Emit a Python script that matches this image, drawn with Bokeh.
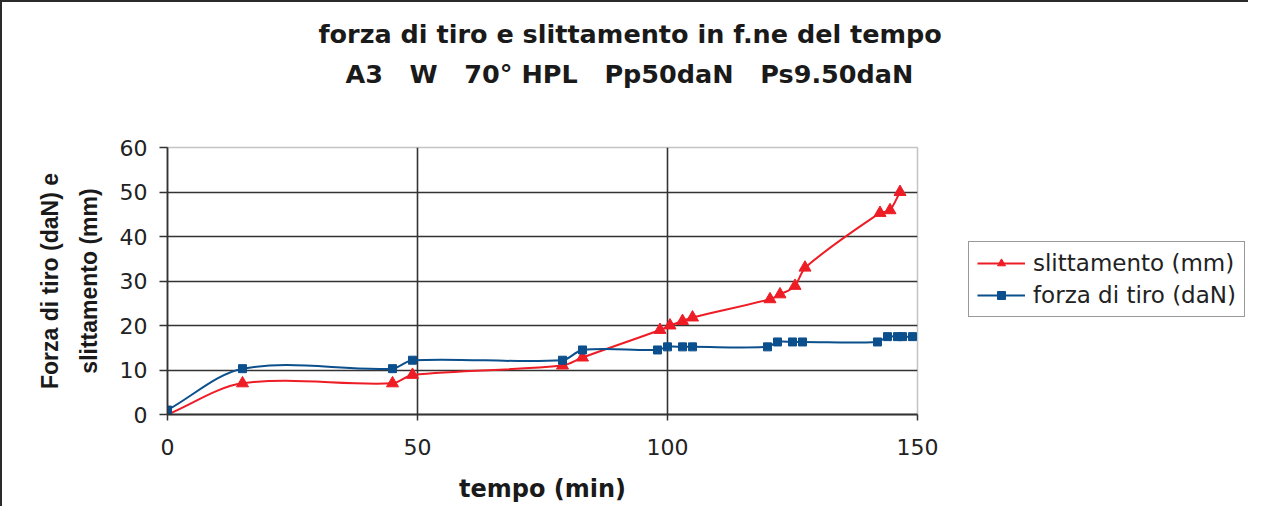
import numpy as np
from bokeh.plotting import figure
from bokeh.layouts import row
from bokeh.models import Range1d, FixedTicker, Legend, LegendItem, ColumnDataSource, Title
from bokeh.embed import file_html
from bokeh.resources import INLINE

# ---- data ----
time_slip = [0, 15, 45, 49, 79, 83, 98.5, 100.5, 103, 105, 120.5, 122.5, 125.5, 127.5, 142.5, 144.5, 146.5]
slip_mm = [0, 7, 7, 8.9, 11, 12.8, 19, 20, 21, 21.8, 25.9, 27, 28.9, 33, 45.3, 45.9, 50]

time_pull = [0, 15, 45, 49, 79, 83, 98, 100, 103, 105, 120, 122, 125, 127, 142, 144, 146, 147, 149]
pull_daN = [1, 10.3, 10.3, 12.2, 12.2, 14.5, 14.5, 15.2, 15.2, 15.2, 15.2, 16.3, 16.3, 16.3, 16.3, 17.5, 17.5, 17.5, 17.5]

x_ticks = [0, 50, 100, 150]
y_ticks = [0, 10, 20, 30, 40, 50, 60]

title_1 = "forza di tiro e slittamento in f.ne del tempo"
title_2 = "A3 \u00a0\u00a0W \u00a0\u00a070° HPL \u00a0\u00a0Pp50daN \u00a0\u00a0Ps9.50daN"
x_title = "tempo (min)"
y_title = "Forza di tiro (daN) e\nslittamento (mm)"
label_slip = "slittamento (mm)"
label_pull = "forza di tiro (daN)"

RED = "#EE1C25"
BLUE = "#0B4F8C"
GRID = "#333333"
TXT = "#1a1a1a"


def smooth_segments(xs, ys):
    """Bezier segments for a smoothed line through the data points."""
    x = np.asarray(xs, float)
    y = np.asarray(ys, float)
    n = len(x)
    m = np.zeros(n)
    for i in range(n):
        if i == 0:
            m[i] = (y[1] - y[0]) / (x[1] - x[0])
        elif i == n - 1:
            m[i] = (y[-1] - y[-2]) / (x[-1] - x[-2])
        else:
            m[i] = (y[i + 1] - y[i - 1]) / (x[i + 1] - x[i - 1])
    h = x[1:] - x[:-1]
    return ColumnDataSource(dict(
        x0=x[:-1], y0=y[:-1], x1=x[1:], y1=y[1:],
        cx0=x[:-1] + h / 3, cy0=y[:-1] + m[:-1] * h / 3,
        cx1=x[1:] - h / 3, cy1=y[1:] - m[1:] * h / 3,
    ))


# ---------------- main chart ----------------
p = figure(width=958, height=504, output_backend="svg", toolbar_location=None,
           x_range=Range1d(0, 150), y_range=Range1d(0, 60),
           min_border_left=165, min_border_right=43, min_border_top=145, min_border_bottom=92)

p.background_fill_color = "white"
p.border_fill_color = "white"
p.outline_line_color = "#c4c4c4"
p.outline_line_width = 1.5

p.xgrid.ticker = FixedTicker(ticks=[50, 100])
p.ygrid.ticker = FixedTicker(ticks=[10, 20, 30, 40, 50])
for g in (p.xgrid, p.ygrid):
    g.grid_line_color = GRID
    g.grid_line_width = 1.6

for ax, ticks in ((p.xaxis, x_ticks), (p.yaxis, y_ticks)):
    ax.ticker = FixedTicker(ticks=ticks)
    ax.axis_line_color = GRID
    ax.axis_line_width = 1.8
    ax.major_tick_line_color = GRID
    ax.major_tick_line_width = 1.5
    ax.major_tick_in = 0
    ax.minor_tick_line_color = None
    ax.major_label_text_font = "DejaVu Sans"
    ax.major_label_text_font_size = "22px"
    ax.major_label_text_color = "#222222"
p.xaxis.major_tick_out = 6
p.yaxis.major_tick_out = 8
p.xaxis.major_label_standoff = 18
p.yaxis.major_label_standoff = 12

p.xaxis.axis_label = x_title
p.xaxis.axis_label_text_font = "DejaVu Sans"
p.xaxis.axis_label_text_font_style = "bold"
p.xaxis.axis_label_text_font_size = "24px"
p.xaxis.axis_label_text_color = TXT
p.xaxis.axis_label_standoff = 17

p.yaxis.axis_label = y_title
p.yaxis.axis_label_text_font = "Liberation Sans"
p.yaxis.axis_label_text_font_style = "bold"
p.yaxis.axis_label_text_font_size = "23px"
p.yaxis.axis_label_text_color = TXT
p.yaxis.axis_label_text_line_height = 1.47
p.yaxis.axis_label_standoff = 15

src_slip = smooth_segments(time_slip, slip_mm)
src_pull = smooth_segments(time_pull, pull_daN)

p.bezier(x0="x0", y0="y0", x1="x1", y1="y1", cx0="cx0", cy0="cy0", cx1="cx1", cy1="cy1",
         source=src_slip, line_color=RED, line_width=2)
p.scatter(time_slip, slip_mm, marker="triangle", size=12, color=RED)
p.bezier(x0="x0", y0="y0", x1="x1", y1="y1", cx0="cx0", cy0="cy0", cx1="cx1", cy1="cy1",
         source=src_pull, line_color=BLUE, line_width=2)
p.scatter(time_pull, pull_daN, marker="square", size=8, color=BLUE)

# two-line title, with a spacer between it and the frame
p.add_layout(Title(text=" ", standoff=52, text_font_size="1px"), "above")
p.add_layout(Title(text=title_2, align="left", offset=178, standoff=8,
                   text_font="DejaVu Sans", text_font_style="bold", text_font_size="25.5px",
                   text_color=TXT), "above")
p.add_layout(Title(text=title_1, align="left", offset=151, standoff=8,
                   text_font="DejaVu Sans", text_font_style="bold", text_font_size="25.5px",
                   text_color=TXT), "above")

# ---------------- legend panel (right) ----------------
# the key renderers use the real series, but their range keeps them out of view,
# so that only the legend of this panel is seen
lf = figure(width=288, height=504, output_backend="svg", toolbar_location=None,
            x_range=Range1d(-2, -1), y_range=Range1d(-2, -1),
            x_axis_location=None, y_axis_location=None,
            min_border=0)
lf.outline_line_color = None
lf.xgrid.visible = False
lf.ygrid.visible = False
k_line_r = lf.line(time_slip, slip_mm, line_color=RED, line_width=2)
k_pts_r = lf.scatter(time_slip, slip_mm, marker="triangle", color=RED)
k_line_b = lf.line(time_pull, pull_daN, line_color=BLUE, line_width=2)
k_pts_b = lf.scatter(time_pull, pull_daN, marker="square", color=BLUE)

legend = Legend(items=[LegendItem(label=label_slip, renderers=[k_line_r, k_pts_r]),
                       LegendItem(label=label_pull, renderers=[k_line_b, k_pts_b])],
                location=(8, 97))
legend.label_text_font = "DejaVu Sans"
legend.label_text_font_size = "23px"
legend.label_text_color = "#222222"
legend.glyph_width = 48
legend.glyph_height = 20
legend.label_standoff = 8
legend.padding = 8
legend.spacing = 6
legend.margin = 0
legend.border_line_color = "#333333"
legend.border_line_width = 1.5
lf.add_layout(legend)

layout = row(p, lf, styles={"border-top": "2px solid #2b2b2b", "border-left": "2px solid #2b2b2b"})

open("out.html", "w").write(file_html(layout, INLINE))
